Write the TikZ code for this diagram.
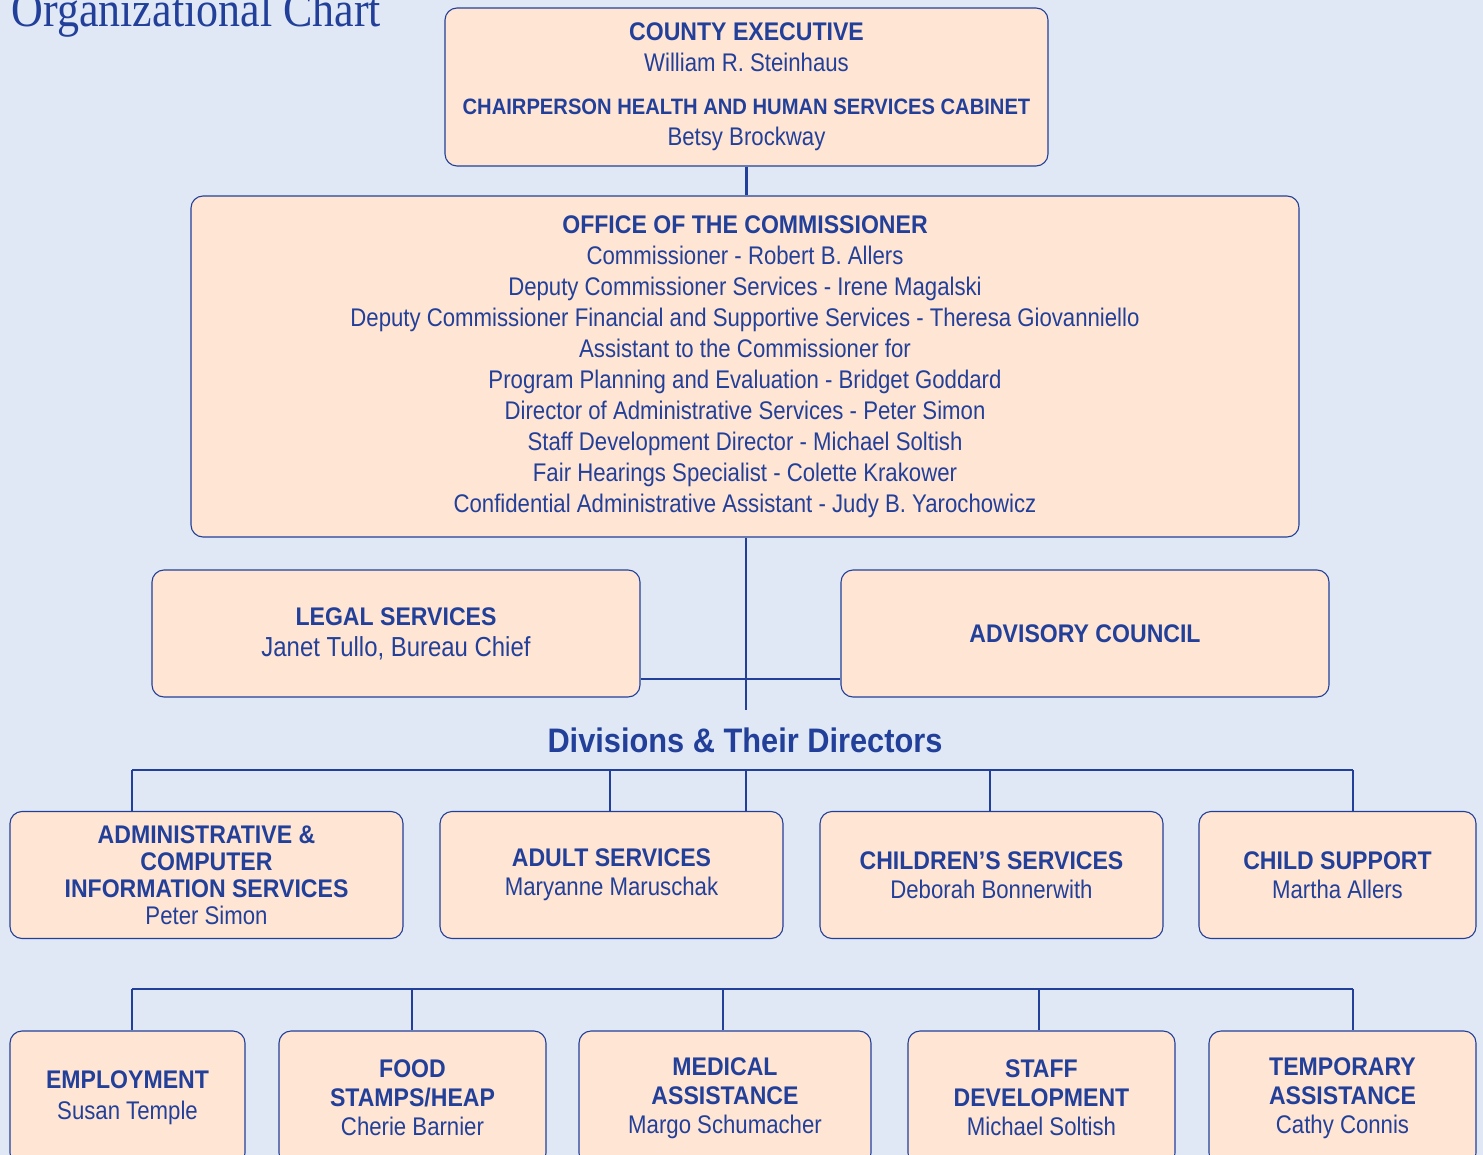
\documentclass[tikz,border=0pt]{standalone}
\usepackage{fontspec}
\setmainfont[FakeStretch=0.87, BoldFeatures={FakeStretch=0.905}]{Liberation Sans}
\newfontfamily\titlefont[FakeStretch=0.88]{Liberation Serif}
\usetikzlibrary{positioning}
\usetikzlibrary{calc}

\definecolor{bgblue}{HTML}{E0E8F5}
\definecolor{peach}{HTML}{FFE5D3}
\definecolor{navy}{HTML}{22409A}

\begin{document}
\begin{tikzpicture}[x=1pt, y=-1pt,
    orgbox/.style={draw=navy, line width=1.1pt, fill=peach,
      rounded corners=12pt, align=center, text=navy, inner sep=0pt,
      font=\fontsize{25.5}{31}\selectfont},
    link/.style={navy, line width=2.8pt}]

\clip (0,0) rectangle (1483,1155);
\fill[bgblue] (0,0) rectangle (1483,1155);

\node[text=navy, anchor=base west, font=\titlefont\fontsize{50}{50}\selectfont]
  (title) at (8,27) {Organizational Chart};

% top boxes
\node[orgbox, minimum width=603pt, minimum height=158pt] (county) at (746.5,87)
  {\textbf{COUNTY EXECUTIVE}\\
   William R. Steinhaus\\[12pt]
   {\fontsize{22.3}{24}\selectfont\textbf{CHAIRPERSON HEALTH AND HUMAN SERVICES CABINET}}\\
   Betsy Brockway};

\node[orgbox, minimum width=1108pt, minimum height=341pt] (comm) at (745,366.5)
  {\textbf{OFFICE OF THE COMMISSIONER}\\
   Commissioner - Robert B. Allers\\
   Deputy Commissioner Services - Irene Magalski\\
   Deputy Commissioner Financial and Supportive Services - Theresa Giovanniello\\
   Assistant to the Commissioner for\\
   Program Planning and Evaluation - Bridget Goddard\\
   Director of Administrative Services - Peter Simon\\
   Staff Development Director - Michael Soltish\\
   Fair Hearings Specialist - Colette Krakower\\
   Confidential Administrative Assistant - Judy B. Yarochowicz};

\node[orgbox, minimum width=488pt, minimum height=127pt] (legal) at (396,633.5)
  {\textbf{LEGAL SERVICES}\\
   {\fontsize{27.5}{31}\selectfont Janet Tullo, Bureau Chief}};
\node[orgbox, minimum width=488pt, minimum height=127pt] (advisory) at (1085,633.5)
  {\textbf{ADVISORY COUNCIL}};

\coordinate (hub) at (746,679);
\coordinate (stem) at (746,710);
\draw[link] (county.south) -- (county.south |- comm.north);
\draw[link] (comm.south -| stem) -- (stem);
\draw[link] (legal.east |- hub) -- (advisory.west |- hub);

\node[text=navy, font=\fontsize{34}{34}\selectfont\bfseries] (divs) at (745,740)
  {Divisions \& Their Directors};

% divisions
\node[orgbox, minimum width=393pt, minimum height=127pt,
      font=\fontsize{25.5}{27}\selectfont] (admin) at (206.5,875)
  {\textbf{ADMINISTRATIVE \&}\\ \textbf{COMPUTER}\\
   \textbf{INFORMATION SERVICES}\\ Peter Simon};
\node[orgbox, minimum width=343pt, minimum height=127pt,
      font=\fontsize{25.5}{29}\selectfont] (adult) at (611.5,875)
  {\textbf{ADULT SERVICES}\\ Maryanne Maruschak};
\node[orgbox, minimum width=343pt, minimum height=127pt,
      font=\fontsize{25.5}{29}\selectfont] (children) at (991.5,875)
  {\textbf{CHILDREN'S SERVICES}\\ Deborah Bonnerwith};
\node[orgbox, minimum width=277pt, minimum height=127pt,
      font=\fontsize{25.5}{29}\selectfont] (support) at (1337.5,875)
  {\textbf{CHILD SUPPORT}\\ Martha Allers};

\coordinate (d1) at (132,770);
\coordinate (d2) at (610,770);
\coordinate (d3) at (746,770);
\coordinate (d4) at (990,770);
\coordinate (d5) at (1353,770);
\draw[link] (d1) -- (d5);
\draw[link] (d1) -- (d1 |- admin.north);
\draw[link] (d2) -- (d2 |- adult.north);
\draw[link] (d3) -- (d3 |- adult.north);
\draw[link] (d4) -- (d4 |- children.north);
\draw[link] (d5) -- (d5 |- support.north);

% bottom row
\node[orgbox, minimum width=235pt, minimum height=134pt,
      font=\fontsize{25.5}{31}\selectfont] (employ) at (127.5,1098)
  {\textbf{EMPLOYMENT}\\ Susan Temple};
\node[orgbox, minimum width=267pt, minimum height=134pt,
      font=\fontsize{25.5}{29}\selectfont] (food) at (412.5,1098)
  {\textbf{FOOD}\\ \textbf{STAMPS/HEAP}\\ Cherie Barnier};
\node[orgbox, minimum width=292pt, minimum height=134pt,
      font=\fontsize{25.5}{29}\selectfont] (medical) at (725,1098)
  {\textbf{MEDICAL}\\ \textbf{ASSISTANCE}\\ Margo Schumacher};
\node[orgbox, minimum width=267pt, minimum height=134pt,
      font=\fontsize{25.5}{29}\selectfont] (staff) at (1041.5,1098)
  {\textbf{STAFF}\\ \textbf{DEVELOPMENT}\\ Michael Soltish};
\node[orgbox, minimum width=267pt, minimum height=134pt,
      font=\fontsize{25.5}{29}\selectfont] (temp) at (1342.5,1098)
  {\textbf{TEMPORARY}\\ \textbf{ASSISTANCE}\\ Cathy Connis};

\coordinate (b1) at (132,989);
\coordinate (b2) at (412,989);
\coordinate (b3) at (723,989);
\coordinate (b4) at (1039,989);
\coordinate (b5) at (1353,989);
\draw[link] (b1) -- (b5);
\draw[link] (b1) -- (b1 |- employ.north);
\draw[link] (b2) -- (b2 |- food.north);
\draw[link] (b3) -- (b3 |- medical.north);
\draw[link] (b4) -- (b4 |- staff.north);
\draw[link] (b5) -- (b5 |- temp.north);

\end{tikzpicture}
\end{document}
